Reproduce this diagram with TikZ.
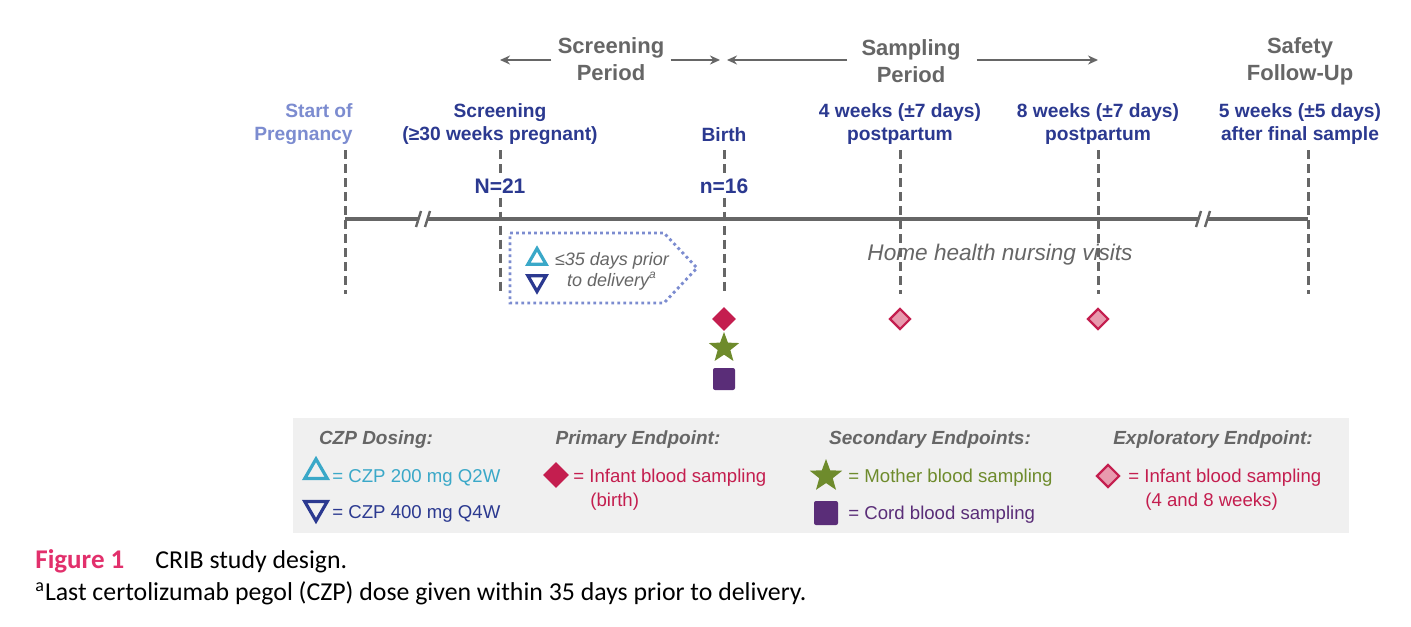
\documentclass[tikz,border=0pt]{standalone}
\usepackage{fontspec}
\setmainfont{Liberation Sans}
\newfontfamily\capfont{Carlito}
\usetikzlibrary{calc,positioning,shapes.geometric,arrows.meta}

\definecolor{czpgray}{HTML}{666666}
\definecolor{czpnavy}{HTML}{2B3990}
\definecolor{czplight}{HTML}{7C8CD0}
\definecolor{czpcyan}{HTML}{3AA8C8}
\definecolor{czpred}{HTML}{C41E4F}
\definecolor{czppink}{HTML}{E89AAE}
\definecolor{czpgreen}{HTML}{6E8B2C}
\definecolor{czppurple}{HTML}{5A2D78}
\definecolor{czpbox}{HTML}{F0F0F0}
\definecolor{czpfig}{HTML}{E2306C}

\tikzset{
  evt/.style={font=\fontsize{9.6}{11.5}\selectfont\bfseries, text=czpnavy, align=center, inner sep=0pt},
  period/.style={font=\fontsize{11}{13.5}\selectfont\bfseries, text=czpgray, align=center, inner sep=3pt},
  vline/.style={draw=czpgray, line width=1.5pt, dash pattern=on 4.5pt off 2.5pt},
  axis/.style={draw=czpgray, line width=2pt},
  parrow/.style={draw=czpgray, line width=1pt, -{Stealth[length=5pt,width=4.5pt]}},
  infant/.style={diamond, fill=czpred, inner sep=0pt, minimum size=12pt},
  infantlate/.style={diamond, draw=czpred, fill=czppink, line width=1.1pt, inner sep=0pt, minimum size=10.5pt},
  mother/.style={star, star points=5, star point ratio=2.4, fill=czpgreen, inner sep=0pt, minimum size=16pt},
  cord/.style={rectangle, rounded corners=1pt, fill=czppurple, inner sep=0pt, minimum size=11pt},
  dose/.style={regular polygon, regular polygon sides=3, line width=1.6pt, inner sep=0pt, minimum size=10.5pt},
  dosetwo/.style={dose, draw=czpcyan},
  dosefour/.style={dose, draw=czpnavy, shape border rotate=180},
  keyhead/.style={font=\fontsize{9.5}{11}\selectfont\bfseries\itshape, text=czpgray, inner sep=0pt},
  keytext/.style={font=\fontsize{9.3}{12.5}\selectfont, anchor=base west, inner sep=0pt},
}

\begin{document}
\begin{tikzpicture}[x=0.5pt,y=-0.5pt]
  \useasboundingbox[fill=white] (0,0) rectangle (1411,626);

  % time points on the axis
  \coordinate (preg) at (345,219);
  \coordinate (scr) at (500,219);
  \coordinate (birth) at (724,219);
  \coordinate (wk4) at (900,219);
  \coordinate (wk8) at (1098,219);
  \coordinate (fup) at (1308,219);

  \draw[axis] (preg) -- (fup);
  \foreach \bx in {423,1203}{
    \fill[white] (\bx-4,212) rectangle (\bx+4,226);
    \draw[czpgray, line width=1.2pt] (\bx-7,227) -- (\bx-2,211) (\bx+2,227) -- (\bx+7,211);
  }

  % event labels
  \node[evt, text=czplight, align=right, anchor=east] (pregl) at (353,124) {Start of\\Pregnancy};
  \node[evt] (scrl) at (500,124) {Screening\\(≥30 weeks pregnant)};
  \node[evt] (birthl) at (724,135) {Birth};
  \node[evt] (wk4l) at (900,124) {4 weeks (±7 days)\\postpartum};
  \node[evt] (wk8l) at (1098,124) {8 weeks (±7 days)\\postpartum};
  \node[evt] (fupl) at (1300,124) {5 weeks (±5 days)\\after final sample};
  \node[evt, font=\fontsize{10.5}{12}\selectfont\bfseries, inner sep=2pt] (nall) at (500,186) {N=21};
  \node[evt, font=\fontsize{10.5}{12}\selectfont\bfseries, inner sep=2pt] (nbirth) at (724,186) {n=16};

  \draw[vline] ($(preg)+(0,-69)$) -- ($(preg)+(0,75)$);
  \draw[vline] ($(scr)+(0,-69)$) -- (nall.north) (nall.south) -- ($(scr)+(0,75)$);
  \draw[vline] ($(birth)+(0,-69)$) -- (nbirth.north) (nbirth.south) -- ($(birth)+(0,75)$);
  \draw[vline] ($(wk4)+(0,-69)$) -- ($(wk4)+(0,75)$);
  \draw[vline] ($(wk8)+(0,-69)$) -- ($(wk8)+(0,75)$);
  \draw[vline] ($(fup)+(0,-69)$) -- ($(fup)+(0,75)$);

  % periods
  \node[period] (scrp) at (611,59) {Screening\\Period};
  \node[period] (smpp) at (911,61) {Sampling\\Period};
  \node[period] (safp) at (1300,61) {Safety\\Follow-Up};
  \coordinate (scrA) at (500,60);
  \coordinate (scrB) at (720,60);
  \coordinate (smpA) at (727,60);
  \coordinate (smpB) at (1098,60);
  \draw[parrow] (scrp.west |- scrA) -- (scrA);
  \draw[parrow] (scrp.east |- scrB) -- (scrB);
  \draw[parrow, shorten <=4pt] (smpp.west |- smpA) -- (smpA);
  \draw[parrow, shorten <=5pt] (smpp.east |- smpB) -- (smpB);

  % dosing window
  \draw[czplight, line width=1.4pt, dash pattern=on 1.4pt off 1.6pt]
    (510,233) -- (664,233) -- (697,268) -- (664,303) -- (510,303) -- cycle;
  \node[dosetwo] (boxup) at (537,259) {};
  \node[dosefour] (boxdn) at (537,281) {};
  \node[font=\fontsize{9}{10.5}\selectfont\itshape, text=czpgray, align=center] (boxtxt) at (612,271)
    {≤35 days prior\\to delivery\textsuperscript{a}};
  \node[font=\fontsize{11.3}{13}\selectfont\itshape, text=czpgray] (home) at (1000,255) {Home health nursing visits};

  % sampling
  \node[infant] (smp1) at (724,319) {};
  \node[mother] (smp2) at (724,348) {};
  \node[cord] (smp3) at (724,379) {};
  \node[infantlate] (smp4) at (900,319) {};
  \node[infantlate] (smp5) at (1098,319) {};

  % key
  \fill[czpbox] (293,418) rectangle (1349,533);
  \node[keyhead] (kdose) at (376,440) {CZP Dosing:};
  \node[keyhead] (kprim) at (638,440) {Primary Endpoint:};
  \node[keyhead] (ksec) at (930,440) {Secondary Endpoints:};
  \node[keyhead] (kexp) at (1213,440) {Exploratory Endpoint:};

  \node[dosetwo, minimum size=13pt] (k1) at (316,472) {};
  \node[keytext, text=czpcyan] (k1t) at (332,482) {= CZP 200 mg Q2W};
  \node[dosefour, minimum size=13pt] (k2) at (316,508) {};
  \node[keytext, text=czpnavy] (k2t) at (332,518) {= CZP 400 mg Q4W};
  \node[infant, minimum size=13pt] (k3) at (556,475) {};
  \node[keytext, text=czpred] (k3t) at (573,482) {= Infant blood sampling};
  \node[keytext, text=czpred] (k3b) at (590,506) {(birth)};
  \node[mother, minimum size=17pt] (k4) at (826,476) {};
  \node[keytext, text=czpgreen] (k4t) at (848,482) {= Mother blood sampling};
  \node[cord, minimum size=12pt] (k5) at (826,513) {};
  \node[keytext, text=czppurple] (k5t) at (848,519) {= Cord blood sampling};
  \node[infantlate, minimum size=11.5pt] (k6) at (1108,476) {};
  \node[keytext, text=czpred] (k6t) at (1128,482) {= Infant blood sampling};
  \node[keytext, text=czpred] (k6b) at (1145,506) {(4 and 8 weeks)};

  % caption
  \node[anchor=base west, inner sep=0pt, font=\capfont\fontsize{13.5}{15}\selectfont\bfseries, text=czpfig] (fig) at (35,568) {Figure 1};
  \node[anchor=base west, inner sep=0pt, font=\capfont\fontsize{12.9}{15}\selectfont] (figt) at (155,568) {CRIB study design.};
  \node[anchor=base west, inner sep=0pt, font=\capfont\fontsize{12.9}{15}\selectfont] (fign) at (35,600)
    {\textsuperscript{a}Last certolizumab pegol (CZP) dose given within 35 days prior to delivery.};
\end{tikzpicture}
\end{document}
